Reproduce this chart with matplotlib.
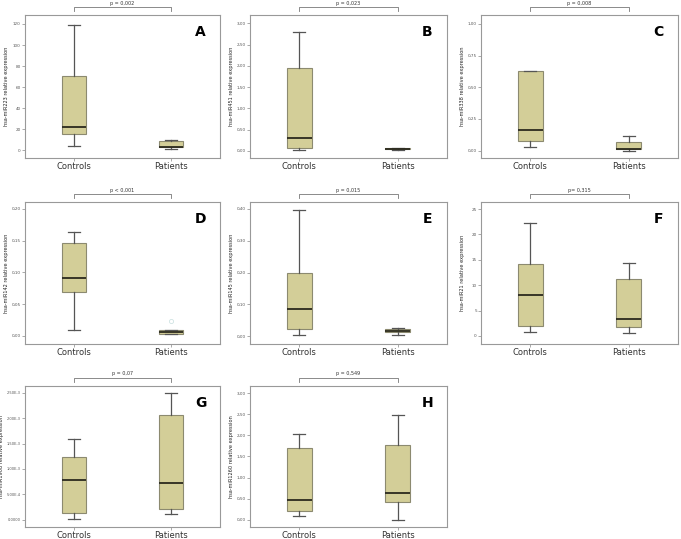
import matplotlib
matplotlib.use("Agg")
import matplotlib.pyplot as plt
from matplotlib.ticker import FuncFormatter

# Données : (min moustache, Q1, médiane, Q3, max moustache)
groups = ["Controls", "Patients"]
panel_letters = ["A", "B", "C", "D", "E", "F", "G", "H"]
mirnas = ["hsa-miR223", "hsa-miR451", "hsa-miR338", "hsa-miR142",
          "hsa-miR145", "hsa-miR21", "hsa-miR1908", "hsa-miR1260"]
p_values = ["p = 0,002", "p = 0,023", "p = 0,008", "p < 0,001",
            "p = 0,015", "p= 0,315", "p = 0,07", "p = 0,549"]

controls_stats = [
    [4.4, 15.5, 22.0, 71.0, 119.0],
    [0.01, 0.06, 0.305, 1.94, 2.80],
    [0.029, 0.073, 0.163, 0.627, 0.627],
    [0.010, 0.0686, 0.0906, 0.1466, 0.163],
    [0.002, 0.022, 0.0838, 0.200, 0.397],
    [0.8, 1.9, 8.0, 14.2, 22.25],
    [0.013e-3, 0.13e-3, 0.79e-3, 1.227e-3, 1.586e-3],
    [0.10, 0.21, 0.46, 1.69, 2.03],
]
patients_stats = [
    [1.6, 2.8, 3.5, 9.2, 9.8],
    [0.01, 0.035, 0.045, 0.055, 0.055],
    [0.0, 0.01, 0.016, 0.066, 0.118],
    [0.0037, 0.0037, 0.0063, 0.009, 0.010],
    [0.002, 0.0126, 0.0168, 0.021, 0.024],
    [0.6, 1.7, 3.3, 11.3, 14.4],
    [0.124e-3, 0.22e-3, 0.73e-3, 2.06e-3, 2.5e-3],
    [0.0, 0.432, 0.644, 1.775, 2.48],
]
outliers_patients = [[], [], [], [0.024], [], [], [], []]

y_ticks = [
    [0, 20, 40, 60, 80, 100, 120],
    [0, 0.5, 1.0, 1.5, 2.0, 2.5, 3.0],
    [0, 0.25, 0.5, 0.75, 1.0],
    [0, 0.05, 0.10, 0.15, 0.20],
    [0, 0.1, 0.2, 0.3, 0.4],
    [0, 5, 10, 15, 20, 25],
    [0, 0.5e-3, 1.0e-3, 1.5e-3, 2.0e-3, 2.5e-3],
    [0, 0.5, 1.0, 1.5, 2.0, 2.5, 3.0],
]
y_limits = [
    (-7.3, 128.5), (-0.17, 3.2), (-0.058, 1.07), (-0.0126, 0.211),
    (-0.025, 0.422), (-1.6, 26.4), (-0.14e-3, 2.63e-3), (-0.17, 3.17),
]

box_fill = "#d3ce98"
box_edge = "#8c8a70"


def tick_label(v, idx):
    if idx in (0, 5):
        return "%d" % round(v)
    if idx == 6:
        if v == 0:
            return "0,0000"
        return ("%.2E" % v).replace(".", ",").replace("E-0", "E-")
    return ("%.2f" % v).replace(".", ",")


fig = plt.figure(figsize=(6.81, 5.39), dpi=100)

# positions des panneaux en pixels (gauche, haut, droite, bas)
boxes_px = [
    (25, 15, 220, 158), (250, 15, 447, 158), (481, 15, 678, 158),
    (25, 202, 220, 344), (250, 202, 447, 344), (481, 202, 678, 344),
    (25, 386, 220, 527), (250, 386, 447, 527),
]

for i in range(8):
    l, t, r, b = boxes_px[i]
    w, h = r - l, b - t
    ax = fig.add_axes([l / 681, 1 - b / 539, w / 681, h / 539])

    stats = []
    for name, s, fl in [(groups[0], controls_stats[i], []),
                        (groups[1], patients_stats[i], outliers_patients[i])]:
        stats.append(dict(label=name, whislo=s[0], q1=s[1], med=s[2],
                          q3=s[3], whishi=s[4], fliers=fl))

    ax.bxp(stats, positions=[1, 2], widths=0.25, patch_artist=True,
           boxprops=dict(facecolor=box_fill, edgecolor=box_edge, linewidth=0.8),
           medianprops=dict(color="#2b2a1e", linewidth=1.3),
           whiskerprops=dict(color="#555555", linewidth=0.9),
           capprops=dict(color="#555555", linewidth=0.9),
           flierprops=dict(marker="o", markersize=3, markerfacecolor="none",
                           markeredgecolor="#cfe3e3", markeredgewidth=0.6))

    ax.set_xlim(0.5, 2.5)
    ax.set_ylim(*y_limits[i])
    ax.set_yticks(y_ticks[i])
    ax.yaxis.set_major_formatter(FuncFormatter(lambda v, p, k=i: tick_label(v, k)))
    ax.tick_params(axis="y", labelsize=2.6 if i == 6 else 3, length=2, width=0.5,
                   colors="#888888", labelcolor="#555555", pad=1)
    ax.tick_params(axis="x", labelsize=6, length=2, width=0.5,
                   colors="#888888", labelcolor="#333333", pad=1)
    ax.set_ylabel(mirnas[i] + " relative expression", fontsize=3.6,
                  color="#222222")
    ax.yaxis.set_label_coords((-21 if i == 6 else -16) / w, 0.5)
    for sp in ax.spines.values():
        sp.set_color("#999999")
        sp.set_linewidth(0.8)

    ax.text(0.9, 0.88, panel_letters[i], transform=ax.transAxes,
            fontsize=10, fontweight="bold", ha="center", va="center")

    # crochet de significativité au-dessus du panneau
    trans = ax.get_xaxis_transform()
    y_low = 1 + 4 / h
    y_high = 1 + 8 / h
    ax.plot([1, 1, 2, 2], [y_low, y_high, y_high, y_low], transform=trans,
            color="#777777", linewidth=0.6, clip_on=False)
    ax.text(1.5, 1 + 12 / h, p_values[i], transform=trans, fontsize=3.5,
            ha="center", va="center", color="#333333")

fig.savefig("out.png", dpi=100)
